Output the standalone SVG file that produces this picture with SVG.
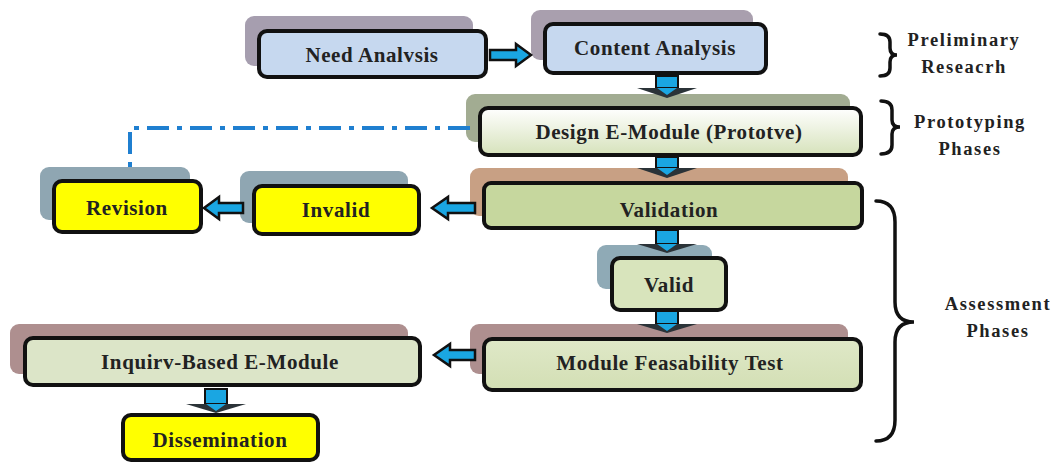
<svg xmlns="http://www.w3.org/2000/svg" width="1055" height="466" viewBox="0 0 1055 466">
<defs>
<linearGradient id="gDesign" x1="0" y1="0" x2="0" y2="1"><stop offset="0" stop-color="#ffffff"/><stop offset="1" stop-color="#d6e2bb"/></linearGradient>
<linearGradient id="gGreen" x1="0" y1="0" x2="0" y2="1"><stop offset="0" stop-color="#dfe8c8"/><stop offset="1" stop-color="#d3dfb4"/></linearGradient>
</defs>
<style>
.main{stroke:#111;stroke-width:4}
.lbl{font-family:"Liberation Serif",serif;font-weight:bold;font-size:21px;letter-spacing:0.6px;fill:#222;text-anchor:middle}
.side{font-family:"Liberation Serif",serif;font-weight:bold;font-size:18.5px;letter-spacing:1.6px;fill:#222;text-anchor:middle}
.arr{fill:#1aa6e2;stroke:#111;stroke-width:2.5;stroke-linejoin:miter}
.brace{fill:none;stroke:#111;stroke-width:3.5;stroke-linecap:round}
</style>
<rect width="1055" height="466" fill="#ffffff"/>
<g id="need-analysis">
<rect x="245" y="16" width="228" height="50" rx="9" fill="#a69eaf"/>
<rect class="main" x="259" y="31" width="227" height="46" rx="8" fill="#c6d8ef"/>
<text class="lbl" x="372" y="62">Need Analvsis</text>
</g>
<g id="content-analysis">
<rect x="531" y="10" width="222" height="50" rx="9" fill="#a99fae"/>
<rect class="main" x="545" y="24" width="221" height="49" rx="8" fill="#c6d8ef"/>
<text class="lbl" x="655" y="55">Content Analysis</text>
</g>
<g id="design">
<rect x="466" y="94" width="384" height="48" rx="9" fill="#a2ac92"/>
<rect class="main" x="480" y="108" width="381" height="47" rx="8" fill="url(#gDesign)"/>
<text class="lbl" x="669" y="139">Design E-Module (Prototve)</text>
</g>
<g id="validation">
<rect x="470" y="168" width="378" height="48" rx="9" fill="#c8a084"/>
<rect class="main" x="484" y="183" width="378" height="45" rx="7" fill="#c6d79e"/>
<text class="lbl" x="669" y="217">Validation</text>
</g>
<g id="invalid">
<rect x="240" y="171" width="168" height="52" rx="9" fill="#8fa6b2"/>
<rect class="main" x="254" y="186" width="165" height="48" rx="8" fill="#ffff00"/>
<text class="lbl" x="336" y="217">Invalid</text>
</g>
<g id="revision">
<rect x="40" y="167" width="150" height="53" rx="9" fill="#8fa6b2"/>
<rect class="main" x="54" y="181" width="147" height="51" rx="8" fill="#ffff00"/>
<text class="lbl" x="127" y="215">Revision</text>
</g>
<g id="valid">
<rect x="597" y="245" width="115" height="44" rx="9" fill="#8faab6"/>
<rect class="main" x="612" y="258" width="114" height="52" rx="8" fill="#d8e4bc"/>
<text class="lbl" x="669" y="292">Valid</text>
</g>
<g id="feasibility">
<rect x="470" y="324" width="378" height="50" rx="9" fill="#ae8f8f"/>
<rect class="main" x="484" y="339" width="377" height="51" rx="8" fill="url(#gGreen)"/>
<text class="lbl" x="670" y="370">Module Feasability Test</text>
</g>
<g id="inquiry">
<rect x="10" y="324" width="398" height="50" rx="9" fill="#ae8f8f"/>
<rect class="main" x="25" y="338" width="395" height="47" rx="8" fill="#dce5c8"/>
<text class="lbl" x="220" y="369">Inquirv-Based E-Module</text>
</g>
<g id="dissemination">
<rect class="main" x="123" y="415" width="195" height="45" rx="8" fill="#ffff00"/>
<text class="lbl" x="220" y="447">Dissemination</text>
</g>
<g id="phase-preliminary">
<path class="brace" d="M880,34 Q890,34 890,42 V48 Q890,55 897,55 Q890,55 890,62 V68 Q890,76 880,76"/>
<text class="side" x="964" y="46">Preliminary</text>
<text class="side" x="964" y="73">Reseacrh</text>
</g>
<g id="phase-prototyping">
<path class="brace" d="M881,101 Q892,101 892,110 V120 Q892,127 900,127 Q892,127 892,134 V145 Q892,154 881,154"/>
<text class="side" x="970" y="128">Prototyping</text>
<text class="side" x="970" y="155">Phases</text>
</g>
<g id="phase-assessment">
<path class="brace" d="M876,201 Q895,201 895,222 V302 Q895,322 914,322 Q895,322 895,342 V420 Q895,441 876,441"/>
<text class="side" x="998" y="310">Assessment</text>
<text class="side" x="998" y="337">Phases</text>
</g>
<g id="connectors">
<path d="M470,128 H130 V168" fill="none" stroke="#1f7fd0" stroke-width="4" stroke-dasharray="22,8,5,8"/>
<polygon class="arr" points="490,50 516,50 516,44 531,55 516,66 516,60 490,60"/>
<polygon class="arr" points="475,203 448,203 448,197 432,208 448,219 448,213 475,213"/>
<polygon class="arr" points="243,203 219,203 219,197 204,208 219,219 219,213 243,213"/>
<polygon class="arr" points="475,350 450,350 450,344 434,355 450,366 450,360 475,360"/>
<g id="down1"><rect x="656" y="76" width="22" height="12" fill="#1aa6e2" stroke="#111" stroke-width="2"/><polygon points="637,88 697,88 667,98" fill="#2b3338"/><polygon points="657,88 677,88 667,95" fill="#1aa6e2"/></g>
<g id="down2"><rect x="656" y="157" width="22" height="11" fill="#1aa6e2" stroke="#111" stroke-width="2"/><polygon points="637,168 697,168 667,178" fill="#2b3338"/><polygon points="657,168 677,168 667,175" fill="#1aa6e2"/></g>
<g id="down3"><rect x="656" y="230" width="22" height="14" fill="#1aa6e2" stroke="#111" stroke-width="2"/><polygon points="637,244 697,244 667,253" fill="#2b3338"/><polygon points="657,244 677,244 667,251" fill="#1aa6e2"/></g>
<g id="down4"><rect x="656" y="311" width="22" height="13" fill="#1aa6e2" stroke="#111" stroke-width="2"/><polygon points="637,324 697,324 667,333" fill="#2b3338"/><polygon points="657,324 677,324 667,331" fill="#1aa6e2"/></g>
<g id="down5"><rect x="205" y="389" width="22" height="15" fill="#1aa6e2" stroke="#111" stroke-width="2"/><polygon points="186,404 246,404 216,413" fill="#2b3338"/><polygon points="206,404 226,404 216,411" fill="#1aa6e2"/></g>
</g>
</svg>
